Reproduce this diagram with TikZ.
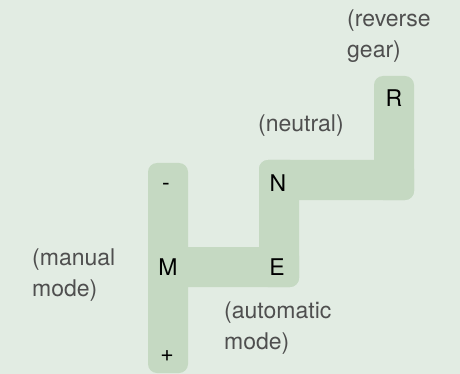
\documentclass[tikz,border=0pt]{standalone}
\usepackage{fontspec}
\setmainfont{TeX Gyre Heros}
\definecolor{bgc}{HTML}{E2ECE3}
\definecolor{trackc}{HTML}{C5D9C2}
\definecolor{labelc}{HTML}{4F4F4F}
\begin{document}
\begin{tikzpicture}[x=1pt,y=-1pt,
  track/.style={fill=trackc,draw=none,rounded corners=9pt},
  gear/.style={inner sep=0pt,anchor=base,font=\fontsize{23}{31}\selectfont,text=black},
  note/.style={inner sep=0pt,anchor=base west,align=left,font=\fontsize{23}{31}\selectfont,text=labelc}]
\fill[bgc] (0,0) rectangle (460,374);
\useasboundingbox (0,0) rectangle (460,374);
% track
\fill[track] (148,163) rectangle (188,373);
\fill[track] (148,247) rectangle (299,287);
\fill[track] (259,160) rectangle (299,287);
\fill[track] (259,160) rectangle (414,200);
\fill[track] (374,76) rectangle (414,200);
% gear letters
\node[gear] (minus) at (166,190) {-};
\node[gear] (n) at (278,191) {N};
\node[gear] (m) at (168,275) {M};
\node[gear] (e) at (277,275) {E};
\node[gear] (plus) at (167,361) {+};
\node[gear] (r) at (394,107) {R};
% notes (anchor = baseline of last line)
\node[note] (neutral) at (258,132) {(neutral)};
\node[note] (reverse) at (347,58) {(reverse\\gear)};
\node[note] (manual) at (32,296) {(manual\\mode)};
\node[note] (auto) at (224,349) {(automatic\\mode)};
\end{tikzpicture}
\end{document}
